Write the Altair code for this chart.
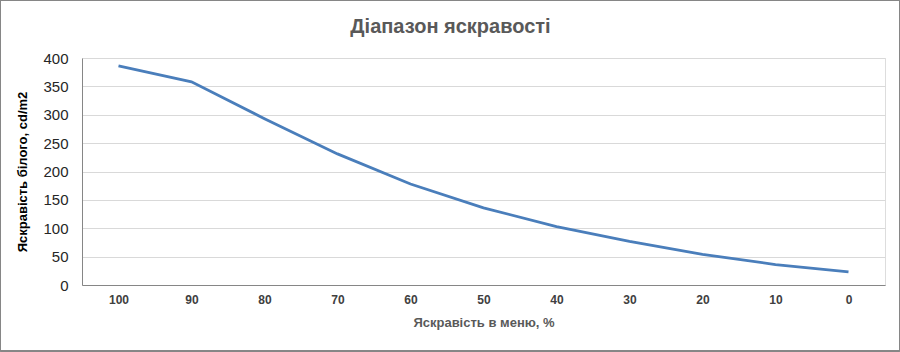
import altair as alt
import pandas as pd

menu = ["100", "90", "80", "70", "60", "50", "40", "30", "20", "10", "0"]
white = [386, 358, 293, 231, 178, 136, 103, 77, 54, 36, 23]

df = pd.DataFrame({"menu": menu, "white": white})

W, H = 803, 227

line = alt.Chart(df).mark_line(color="#4a7ebb", strokeWidth=2.8).encode(
    x=alt.X("menu:N", sort=menu, scale=alt.Scale(type="point", padding=0.5),
            axis=alt.Axis(title="Яскравість в меню, %", labelAngle=0, ticks=False,
                          labelPadding=9, titlePadding=11, grid=False,
                          domainColor="#868686", labelFontWeight="bold", labelFontSize=12,
                          labelColor="#404040", titleFontSize=13, titleColor="#595959",
                          titleFontWeight="bold", labelFont="Liberation Sans",
                          titleFont="Liberation Sans")),
    y=alt.Y("white:Q", scale=alt.Scale(domain=[0, 400], nice=False),
            axis=alt.Axis(title="Яскравість білого, cd/m2", values=list(range(0, 401, 50)),
                          ticks=False, labelPadding=14, titlePadding=13, gridColor="#d9d9d9",
                          domainColor="#868686", labelFontSize=15, labelColor="#262626",
                          titleFontSize=13, titleFontWeight="bold", titleColor="#000000",
                          labelFont="Liberation Sans", titleFont="Liberation Sans")),
)

border = alt.Chart(df).mark_rect(fill=None, stroke="#868686", strokeWidth=1, clip=False).encode(
    x=alt.value(-81.5), x2=alt.value(W + 14.5), y=alt.value(-57.5), y2=alt.value(H + 66)
)

chart = alt.layer(line, border).properties(
    width=W, height=H,
    title=alt.TitleParams("Діапазон яскравості", fontSize=20, fontWeight="bold",
                          color="#595959", font="Liberation Sans", offset=-37,
                          anchor="middle", dx=-33),
    autosize=alt.AutoSizeParams(type="none"),
    padding={"left": 82, "top": 58, "right": 15, "bottom": 67},
).configure_view(stroke=None).configure(background="white")

chart.save("out.html", embed_options={"renderer": "svg", "actions": False})
